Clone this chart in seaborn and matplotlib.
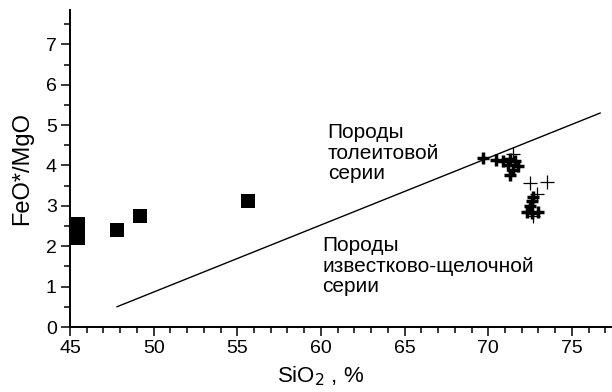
import matplotlib
matplotlib.use("Agg")
import matplotlib.pyplot as plt
import seaborn as sns
import numpy as np
from matplotlib.ticker import MultipleLocator

# Data
sq_x = [45.5, 45.5, 45.5, 47.8, 49.2, 55.65]
sq_y = [2.21, 2.38, 2.56, 2.41, 2.74, 3.13]

thick_x = [69.7, 70.45, 70.9, 71.3, 71.6, 71.2, 71.8, 71.5, 71.3,
           72.7, 72.6, 72.5, 72.3, 73.0, 72.6]
thick_y = [4.19, 4.13, 4.10, 4.16, 4.10, 4.02, 3.98, 3.90, 3.77,
           3.23, 3.11, 2.99, 2.86, 2.86, 2.82]

thin_x = [71.5, 72.5, 73.5, 72.9, 72.7]
thin_y = [4.29, 3.57, 3.60, 3.30, 2.75]

line_x = [47.8, 76.7]
line_y = [0.5, 5.3]

x_ticks = [45, 50, 55, 60, 65, 70, 75]
y_ticks = [0, 1, 2, 3, 4, 5, 6, 7]

sns.set_style("white")
plt.rcParams['font.family'] = ['Liberation Sans', 'DejaVu Sans']
plt.rcParams['text.color'] = 'black'
plt.rcParams['axes.labelcolor'] = 'black'
plt.rcParams['xtick.color'] = 'black'
plt.rcParams['ytick.color'] = 'black'

fig = plt.figure(figsize=(6.12, 3.92), dpi=100)
ax = fig.add_axes([70/612, 65/392, 542/612, 317/392])

sns.lineplot(x=line_x, y=line_y, ax=ax, color='black', linewidth=1.0)
sns.scatterplot(x=sq_x, y=sq_y, ax=ax, marker='s', s=100, color='black',
                edgecolor='black', linewidth=0)
sns.scatterplot(x=thick_x, y=thick_y, ax=ax, marker='+', s=70, color='black',
                linewidth=2.5)
sns.scatterplot(x=thin_x, y=thin_y, ax=ax, marker='+', s=90, color='black',
                linewidth=0.9)

ax.set_xlim(45, 45 + 542/16.73)
ax.set_ylim(0, 7.85)
ax.set_xticks(x_ticks)
ax.set_yticks(y_ticks)
ax.xaxis.set_minor_locator(MultipleLocator(1))
ax.yaxis.set_minor_locator(MultipleLocator(0.5))
ax.tick_params(which='major', direction='out', length=6.5, width=1.1,
               labelsize=14, color='black', labelcolor='black',
               bottom=True, left=True, pad=3)
ax.tick_params(which='minor', direction='out', length=4, width=1.1,
               color='black', bottom=True, left=True)
for s in ['top', 'right']:
    ax.spines[s].set_visible(False)
for s in ['left', 'bottom']:
    ax.spines[s].set_linewidth(1.4)
    ax.spines[s].set_color('black')

ax.set_xlabel('SiO$_2$ , %', fontsize=16, color='black')
ax.xaxis.set_label_coords(0.463, -0.118)
ax.set_ylabel('FeO*/MgO', fontsize=17, labelpad=9, color='black')

ax.text(60.4, 5.05, 'Породы\nтолеитовой\nсерии', fontsize=15, ha='left',
        va='top', linespacing=1.1, color='black')
ax.text(60.1, 2.25, 'Породы\nизвестково-щелочной\nсерии', fontsize=15,
        ha='left', va='top', linespacing=1.1, color='black')

fig.savefig('out.png', dpi=100)
